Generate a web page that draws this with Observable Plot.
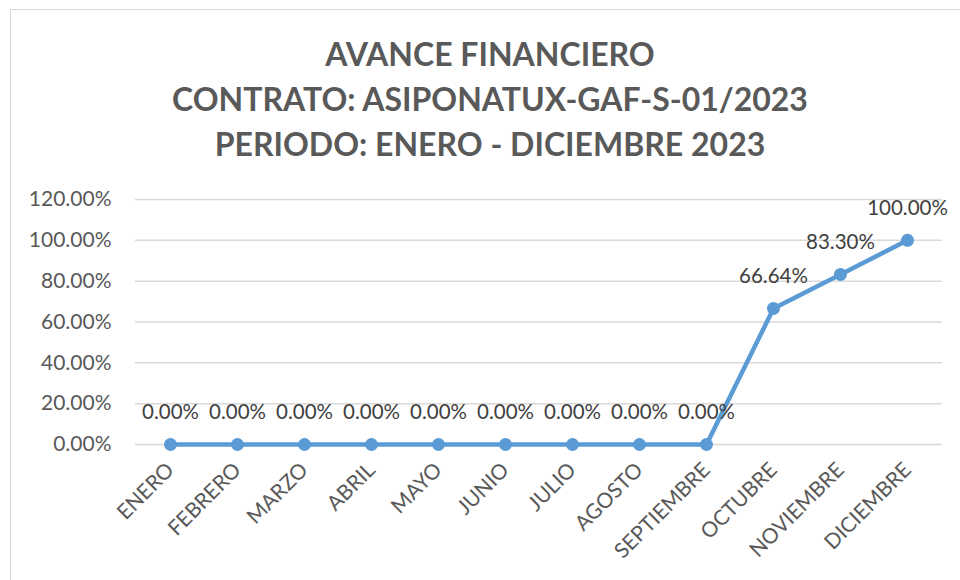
<!DOCTYPE html>
<html>
<head>
<meta charset="utf-8">
<script src="https://cdn.jsdelivr.net/npm/d3@7"></script>
<script src="https://cdn.jsdelivr.net/npm/@observablehq/plot@0.6"></script>
<style>
  html, body { margin: 0; padding: 0; background: #fff; width: 960px; height: 580px; overflow: hidden; }
  #frame { position: absolute; left: 10px; top: 9px; width: 980px; height: 600px; border: 1px solid #d9d9d9; box-sizing: border-box; }
  #title { position: absolute; left: 10px; top: 31px; width: 960px; text-align: center;
           font-family: Lato, "Open Sans", sans-serif; font-weight: bold; font-size: 32px; line-height: 45px; color: #595959; }
  #chart { position: absolute; left: 0; top: 175px; }
</style>
</head>
<body>
<div id="frame"></div>
<div id="title">AVANCE FINANCIERO<br>CONTRATO: ASIPONATUX-GAF-S-01/2023<br>PERIODO: ENERO - DICIEMBRE 2023</div>
<div id="chart"></div>
<script>
const months = ["ENERO","FEBRERO","MARZO","ABRIL","MAYO","JUNIO","JULIO","AGOSTO","SEPTIEMBRE","OCTUBRE","NOVIEMBRE","DICIEMBRE"];
const values = [0, 0, 0, 0, 0, 0, 0, 0, 0, 0.6664, 0.8330, 1.0];
const yTicks = [0, 0.2, 0.4, 0.6, 0.8, 1.0, 1.2];

const data = months.map((m, i) => ({month: m, value: values[i]}));
const pct = d => (d * 100).toFixed(2) + "%";

const chart = Plot.plot({
  width: 960,
  height: 405,
  marginTop: 24,
  marginBottom: 136,
  marginLeft: 135,
  marginRight: 18,
  style: {fontFamily: "Lato, 'Open Sans', sans-serif", fontSize: "20px", color: "#595959", background: "transparent"},
  x: {type: "point", domain: months, padding: 0.5, label: null},
  y: {domain: [0, 1.2], label: null},
  marks: [
    Plot.gridY(yTicks, {stroke: "#d9d9d9", strokeOpacity: 1, strokeWidth: 1.5}),
    Plot.axisY({ticks: yTicks, tickFormat: pct, tickSize: 0, tickPadding: 24, fontSize: 21, fill: "#595959", label: null}),
    Plot.axisX({tickRotate: -45, tickSize: 0, tickPadding: 22, fontSize: 21, fill: "#595959", label: null}),
    Plot.line(data, {x: "month", y: "value", stroke: "#5B9BD5", strokeWidth: 4.5}),
    Plot.dot(data, {x: "month", y: "value", r: 6.5, fill: "#5B9BD5", stroke: null}),
    Plot.text(data, {x: "month", y: "value", text: d => pct(d.value), dy: -32, fontSize: 20.5, fill: "#404040"})
  ]
});
document.getElementById("chart").appendChild(chart);
</script>
</body>
</html>
